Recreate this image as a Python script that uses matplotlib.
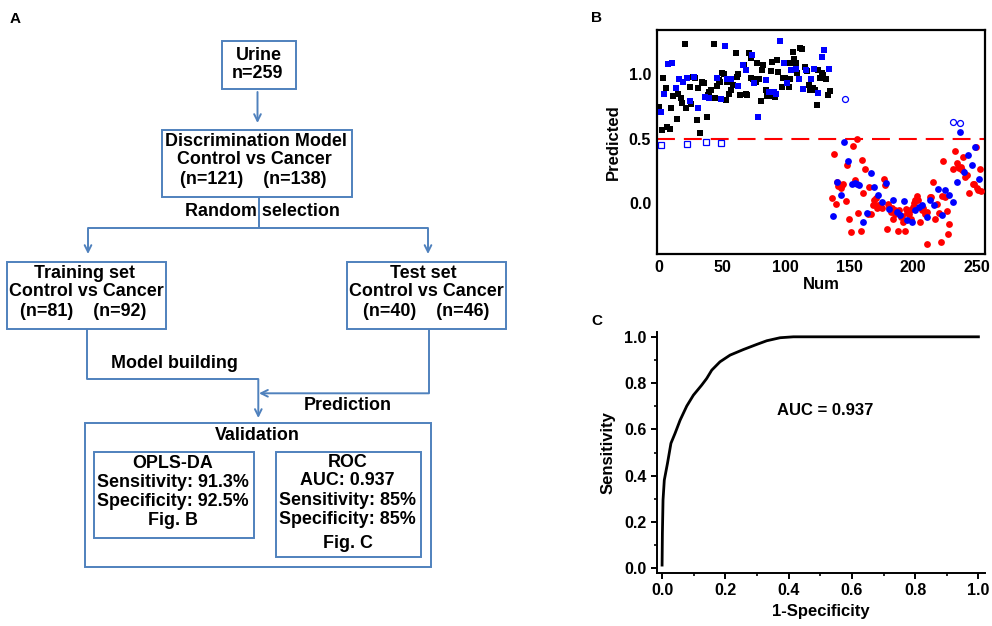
import matplotlib
matplotlib.use("Agg")
import matplotlib.pyplot as plt
from matplotlib.patches import Rectangle
from matplotlib.ticker import MultipleLocator

plt.rcParams['font.family'] = ['Liberation Sans', 'DejaVu Sans']
plt.rcParams['font.weight'] = 'bold'

# ---- panel B data: predicted score vs sample number ----
# training cancers (black squares)
train_sq_x = [0.5, 2.9, 3.9, 6.0, 7.1, 9.2, 9.9, 11.8, 14.7, 15.7, 17.5, 18.8, 20.7, 22.0,
              24.9, 25.9, 27.2, 29.0, 30.1, 31.0, 32.5, 34.0, 35.6, 37.9, 38.7, 39.8, 41.3,
              43.7, 44.8, 46.1, 47.4, 48.7, 50.0, 51.3, 52.9, 54.2, 55.5, 57.3, 58.4, 60.7,
              61.8, 62.8, 64.1, 66.2, 67.0, 68.6, 69.9, 71.2, 72.5, 73.0, 74.3, 76.4, 77.2,
              79.0, 80.3, 81.7, 82.4, 84.3, 85.6, 86.9, 88.5, 89.5, 91.6, 92.9, 94.2, 96.8,
              98.1, 99.4, 100.8, 102.3, 103.4, 104.7, 105.5, 106.8, 107.8, 109.1, 111.2,
              113.1, 115.1, 116.5, 118.0, 119.3, 121.2, 123.0, 124.3, 125.6, 126.9, 128.2,
              129.5, 131.4, 132.9, 134.8]
train_sq_y = [0.747, 0.566, 0.966, 0.889, 0.587, 0.574, 0.734, 0.829, 0.651, 0.842, 0.817,
              0.773, 1.235, 0.739, 0.902, 0.767, 0.979, 0.969, 0.646, 0.894, 0.545, 0.938,
              0.930, 0.664, 0.840, 0.863, 0.876, 1.230, 0.811, 0.907, 0.953, 0.935, 1.008,
              0.997, 0.798, 0.938, 0.845, 0.876, 0.915, 1.165, 0.974, 1.000, 0.837, 1.070,
              1.072, 0.842, 0.837, 1.165, 1.121, 0.966, 0.961, 0.941, 1.088, 0.964, 0.788,
              1.031, 1.070, 0.876, 0.832, 0.829, 1.026, 1.093, 0.824, 1.109, 1.016, 0.902,
              0.966, 0.972, 1.083, 0.902, 0.959, 1.083, 1.168, 1.114, 1.083, 1.005, 1.199,
              1.191, 1.057, 1.023, 0.915, 0.876, 0.889, 0.879, 0.760, 1.031, 0.966, 1.010,
              0.992, 0.959, 0.837, 0.871]
# test cancers (blue squares)
test_sq_x = [1.8, 4.7, 7.9, 11.0, 13.6, 16.2, 19.6, 22.5, 24.9, 28.3, 31.1, 36.9, 40.0, 45.8,
             48.9, 52.1, 54.2, 57.3, 62.8, 66.7, 68.6, 73.3, 75.4, 78.2, 84.5, 86.9, 90.8,
             92.1, 95.5, 98.7, 101.0, 104.2, 107.8, 110.4, 113.6, 115.9, 119.6, 122.2,
             125.6, 128.2, 130.3, 134.0]
test_sq_y = [0.708, 0.842, 1.075, 1.083, 0.891, 0.959, 0.938, 0.972, 0.793, 0.974, 0.739,
             0.824, 0.817, 0.972, 0.809, 1.217, 0.959, 0.959, 0.910, 1.070, 1.031, 1.147,
             0.933, 0.669, 0.953, 0.863, 0.863, 0.842, 1.256, 1.083, 0.933, 1.031, 1.036,
             0.964, 0.881, 1.031, 0.959, 1.039, 0.850, 1.129, 1.186, 1.039]
miss_sq_x = [1.8, 22.5, 37.4, 48.9]
miss_sq_y = [0.450, 0.457, 0.475, 0.468]

# training controls (red circles)
train_ci_x = [137.9, 136.3, 139.2, 140.5, 141.3, 142.1, 143.1, 144.5, 145.2, 147.3, 147.9,
              150.0, 151.0, 153.1, 154.1, 155.7, 156.8, 158.9, 159.6, 160.9, 162.5, 164.9,
              165.7, 167.2, 168.3, 169.3, 170.9, 171.4, 172.7, 173.5, 174.6, 175.6, 177.2,
              178.2, 179.3, 180.3, 181.4, 182.4, 183.2, 184.5, 185.6, 186.1, 187.9, 189.2,
              190.3, 191.0, 191.8, 193.4, 194.4, 195.5, 196.5, 197.6, 198.6, 199.7, 200.7,
              201.5, 202.8, 203.6, 205.4, 206.7, 208.1, 209.1, 210.7, 211.2, 213.3, 214.1,
              215.4, 217.2, 219.0, 220.6, 221.7, 222.7, 223.8, 224.8, 226.4, 227.4, 227.9,
              231.6, 232.9, 234.2, 235.3, 236.3, 237.4, 238.1, 238.9, 240.5, 242.1, 244.2,
              246.8, 247.8, 249.1, 249.9, 251.2, 252.5, 253.6]
train_ci_y = [0.377, 0.036, -0.010, 0.160, 0.132, 0.147, 0.119, 0.140, 0.147, 0.018, 0.295,
              -0.119, -0.220, 0.444, 0.178, 0.494, -0.080, -0.214, 0.333, 0.080, 0.261,
              -0.083, 0.127, -0.085, -0.016, 0.023, 0.036, -0.041, -0.016, -0.028, -0.028,
              -0.034, 0.183, 0.140, -0.199, -0.003, -0.028, -0.067, -0.041, -0.119, -0.054,
              -0.085, -0.214, -0.054, -0.111, -0.096, -0.145, -0.214, -0.049, -0.075, -0.085,
              -0.054, -0.121, -0.028, 0.003, 0.028, 0.054, 0.023, -0.145, -0.054, -0.041,
              -0.085, -0.067, -0.313, 0.044, 0.049, 0.165, -0.119, -0.003, -0.080, -0.302,
              0.059, 0.328, 0.044, -0.059, -0.240, -0.163, 0.261, 0.406, 0.307, 0.276, 0.269,
              0.276, 0.256, 0.359, 0.204, 0.217, 0.075, 0.152, 0.152, 0.437, 0.119, 0.101,
              0.261, 0.096]
# test controls (blue circles)
test_ci_x = [146.0, 148.9, 140.0, 143.1, 137.4, 151.8, 154.1, 155.7, 157.8, 166.7, 169.6,
             160.9, 163.6, 172.7, 175.3, 178.5, 181.1, 184.0, 187.1, 189.7, 192.9, 195.5,
             198.9, 201.8, 204.9, 207.0, 210.7, 213.3, 216.4, 219.3, 222.4, 225.1, 228.5,
             231.1, 234.2, 237.1, 240.0, 243.1, 246.0, 248.7, 252.0]
test_ci_y = [0.470, 0.328, 0.165, 0.062, -0.101, 0.145, 0.158, 0.147, 0.140, 0.235, 0.127,
             -0.145, -0.075, 0.062, 0.010, 0.158, -0.049, 0.028, -0.067, -0.093, 0.016,
             -0.132, -0.145, -0.054, -0.028, -0.016, -0.106, 0.023, -0.016, 0.111, -0.093,
             0.101, 0.062, 0.008, 0.163, 0.553, 0.240, 0.370, 0.295, 0.436, 0.189]
miss_ci_x = [146.6, 231.4, 237.2]
miss_ci_y = [0.806, 0.630, 0.623]
cutoff = 0.5

# ---- panel C data: ROC curve ----
fpr = [0.0, 0.001, 0.003, 0.007, 0.017, 0.028, 0.041, 0.057, 0.078, 0.099, 0.125, 0.141,
       0.157, 0.183, 0.215, 0.257, 0.299, 0.331, 0.373, 0.415, 1.0]
tpr = [0.014, 0.151, 0.295, 0.381, 0.453, 0.540, 0.583, 0.640, 0.701, 0.748, 0.791, 0.820,
       0.856, 0.892, 0.921, 0.945, 0.967, 0.983, 0.996, 1.0, 1.0]
auc = 0.937

fig = plt.figure(figsize=(9.92, 6.26), dpi=100)

# ---------------- panel A: flowchart (pixel coordinates) ----------------
axA = fig.add_axes([0, 0, 1, 1])
axA.set_xlim(0, 992)
axA.set_ylim(626, 0)
axA.axis('off')
blue_line = '#4F81BD'
fs = 12.9


def box(x0, y0, x1, y1):
    axA.add_patch(Rectangle((x0, y0), x1 - x0, y1 - y0, fill=False,
                            edgecolor=blue_line, lw=1.4))


def txt(x, y, s):
    axA.text(x, y, s, ha='center', va='center', fontsize=fs, fontweight='bold')


def line(xs, ys):
    axA.plot(xs, ys, color=blue_line, lw=1.4, solid_capstyle='butt')


def arrow(x0, y0, x1, y1):
    axA.annotate('', xy=(x1, y1), xytext=(x0, y0),
                 arrowprops=dict(arrowstyle='->', color=blue_line, lw=1.4,
                                 shrinkA=0, shrinkB=0, mutation_scale=12))


axA.text(15, 19, 'A', ha='center', va='center', fontsize=11, fontweight='bold')

box(221.7, 41.3, 295.7, 89)
txt(258.7, 55, 'Urine')
txt(257.5, 74, 'n=259')
arrow(257.5, 92, 257.5, 123)

box(161.7, 130, 352.3, 197.3)
txt(256, 141.5, 'Discrimination Model')
txt(254, 160, 'Control vs Cancer')
txt(253, 180, '(n=121)    (n=138)')

line([258.7, 258.7], [197.3, 228])
txt(262, 212, 'Random selection')
line([88, 428], [228, 228])
arrow(88, 228, 88, 254)
arrow(428, 228, 428, 254)

box(6.7, 261.7, 166, 329)
txt(84, 274, 'Training set')
txt(86, 292, 'Control vs Cancer')
txt(83, 311.7, '(n=81)    (n=92)')

box(346.7, 261.7, 506, 329)
txt(423, 274, 'Test set')
txt(426, 292, 'Control vs Cancer')
txt(425.7, 311.7, '(n=40)    (n=46)')

line([87.3, 87.3, 258.3], [329, 379, 379])
arrow(258.3, 379, 258.3, 418)
txt(174, 364, 'Model building')
line([429, 429], [329, 393.3])
arrow(429, 393.3, 259, 393.3)
txt(348, 405, 'Prediction')

box(85, 422.7, 431, 566.7)
txt(257.7, 435.7, 'Validation')
box(94.3, 452.3, 254.3, 537.7)
txt(172.7, 464, 'OPLS-DA')
txt(172.7, 482.7, 'Sensitivity: 91.3%')
txt(172.7, 502, 'Specificity: 92.5%')
txt(172.7, 520.7, 'Fig. B')
box(276, 452.3, 420.7, 557)
txt(347.7, 462.3, 'ROC')
txt(347.7, 480.7, 'AUC: 0.937')
txt(347.7, 500.7, 'Sensitivity: 85%')
txt(347.7, 519.3, 'Specificity: 85%')
txt(347.7, 544, 'Fig. C')

axA.text(597, 18, 'B', ha='center', va='center', fontsize=11, fontweight='bold')
axA.text(597, 320.7, 'C', ha='center', va='center', fontsize=11, fontweight='bold')

# ---------------- panel B: prediction scatter ----------------
axB = fig.add_axes([0.662, 0.594, 0.331, 0.358])
sq_ms = 4.4
ci_ms = 4.9
axB.plot(train_sq_x, train_sq_y, 's', color='black', ms=sq_ms, mew=0, zorder=3)
axB.plot(train_ci_x, train_ci_y, 'o', color='#FF0000', ms=ci_ms, mew=0, zorder=3)
axB.plot(test_sq_x, test_sq_y, 's', color='#0000FF', ms=sq_ms, mew=0, zorder=4)
axB.plot(test_ci_x, test_ci_y, 'o', color='#0000FF', ms=ci_ms, mew=0, zorder=4)
axB.plot(miss_sq_x, miss_sq_y, 's', mfc='none', mec='#0000FF', ms=sq_ms - 0.6, mew=0.9,
         zorder=4)
axB.plot(miss_ci_x, miss_ci_y, 'o', mfc='none', mec='#0000FF', ms=ci_ms - 0.6, mew=0.9,
         zorder=4)
axB.axhline(cutoff, color='#FF0000', lw=1.5, dashes=(8.6, 4.3), zorder=2)
axB.set_xlim(-1.3, 256.5)
axB.set_ylim(-0.395, 1.34)
axB.set_xticks([0, 50, 100, 150, 200, 250])
axB.set_yticks([0.0, 0.5, 1.0])
axB.set_yticklabels(['0.0', '0.5', '1.0'])
axB.tick_params(length=0, labelsize=11.5, pad=4)
for sp in axB.spines.values():
    sp.set_linewidth(1.6)
axB.set_xlabel('Num', fontsize=12, fontweight='bold', labelpad=2)
axB.set_ylabel('Predicted', fontsize=12, fontweight='bold', labelpad=6)

# ---------------- panel C: ROC ----------------
axC = fig.add_axes([0.662, 0.0851, 0.331, 0.385])
axC.plot(fpr, tpr, color='black', lw=2)
axC.set_xlim(-0.017, 1.021)
axC.set_ylim(-0.019, 1.022)
axC.spines['top'].set_visible(False)
axC.spines['right'].set_visible(False)
for sp in ('left', 'bottom'):
    axC.spines[sp].set_linewidth(1.4)
axC.xaxis.set_major_locator(MultipleLocator(0.2))
axC.xaxis.set_minor_locator(MultipleLocator(0.1))
axC.yaxis.set_major_locator(MultipleLocator(0.2))
axC.yaxis.set_minor_locator(MultipleLocator(0.1))
axC.xaxis.set_major_formatter(plt.FormatStrFormatter('%.1f'))
axC.yaxis.set_major_formatter(plt.FormatStrFormatter('%.1f'))
axC.tick_params(which='major', direction='out', length=4, width=1.4, labelsize=11.5)
axC.tick_params(which='minor', direction='out', length=2.5, width=1.2)
axC.text(0.515, 0.68, 'AUC = %.3f' % auc, ha='center', va='center', fontsize=12,
         fontweight='bold')
axC.set_xlabel('1-Specificity', fontsize=12, fontweight='bold', labelpad=4)
axC.set_ylabel('Sensitivity', fontsize=12, fontweight='bold', labelpad=6)

fig.savefig('out.png', dpi=100)
